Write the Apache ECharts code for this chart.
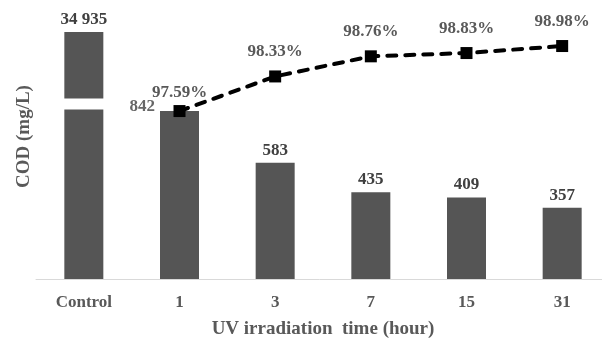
<!DOCTYPE html>
<html>
<head>
<meta charset="utf-8">
<script src="https://cdn.jsdelivr.net/npm/echarts@6/dist/echarts.min.js"></script>
<style>html,body{margin:0;padding:0;background:#fff}#c{width:602px;height:338px}</style>
</head>
<body>
<div id="c"></div>
<script>
const categories = ['Control', '1', '3', '7', '15', '31'];
const codValues = [34935, 842, 583, 435, 409, 357];
const codLabels = ['34 935', '842', '583', '435', '409', '357'];
const removal = [null, 97.59, 98.33, 98.76, 98.83, 98.98];
const removalLabels = ['', '97.59%', '98.33%', '98.76%', '98.83%', '98.98%'];

const FONT = '"Liberation Serif", "Times New Roman", serif';
const chart = echarts.init(document.getElementById('c'), null, {renderer: 'canvas'});

// label of the "1 h" bar is drawn to its left, above the axis-break band
const SIDE_LABEL_INDEX = 1;

const barData = codValues.map((v, i) => ({
  value: v,
  label: {show: i !== SIDE_LABEL_INDEX, formatter: codLabels[i]}
}));
const sideLabelData = codValues.map((v, i) => i === SIDE_LABEL_INDEX ? {value: v, label: {formatter: codLabels[i]}} : '-');
const lineData = removal.map((v, i) => {
  if (v === null) return '-';
  const d = {value: v, label: {formatter: removalLabels[i]}};
  if (i === 1) d.label.distance = 4;
  return d;
});

chart.setOption({
  animation: false,
  grid: {left: 36, top: 32, width: 574, bottom: 59, containLabel: false, outerBoundsMode: 'none'},
  xAxis: {
    type: 'category',
    data: categories,
    axisLine: {lineStyle: {color: '#d9d9d9', width: 1}},
    axisTick: {show: false},
    axisLabel: {color: '#595959', fontFamily: FONT, fontWeight: 'bold', fontSize: 17, margin: 15},
    name: 'UV irradiation  time (hour)',
    nameLocation: 'middle',
    nameGap: 41,
    nameTextStyle: {color: '#595959', fontFamily: FONT, fontWeight: 'bold', fontSize: 19}
  },
  yAxis: [{
    type: 'value',
    min: 0,
    max: 34935,
    breaks: [{start: 852, end: 34604, gap: '4.45%'}],
    breakArea: {show: true, itemStyle: {color: '#ffffff', borderColor: '#ffffff', borderWidth: 0, opacity: 1}, zigzagAmplitude: 0, expandOnClick: false},
    axisLine: {show: false},
    axisTick: {show: false},
    axisLabel: {show: false},
    splitLine: {show: false},
    name: 'COD (mg/L)',
    nameLocation: 'middle',
    nameGap: 2,
    nameTextStyle: {color: '#595959', fontFamily: FONT, fontWeight: 'bold', fontSize: 19, padding: [0, 0, 0, 38]}
  }, {
    type: 'value',
    min: 94,
    max: 99.28,
    show: false,
    splitLine: {show: false}
  }],
  series: [{
    type: 'bar',
    data: barData,
    barWidth: 39,
    itemStyle: {color: '#555555'},
    label: {show: true, position: 'top', distance: 4, color: '#404040', fontFamily: FONT, fontWeight: 'bold', fontSize: 17}
  }, {
    type: 'scatter',
    data: sideLabelData,
    zlevel: 1,
    symbolSize: 1,
    itemStyle: {color: 'rgba(0,0,0,0)'},
    silent: true,
    label: {show: true, position: 'left', distance: 24, offset: [0, -4], color: '#404040', fontFamily: FONT, fontWeight: 'bold', fontSize: 17}
  }, {
    type: 'line',
    yAxisIndex: 1,
    zlevel: 1,
    data: lineData,
    symbol: 'rect',
    symbolSize: 12,
    itemStyle: {color: '#000000'},
    lineStyle: {color: '#000000', width: 4, type: [9, 9], cap: 'round'},
    label: {show: true, position: 'top', distance: 10, color: '#595959', fontFamily: FONT, fontWeight: 'bold', fontSize: 17}
  }]
});
</script>
</body>
</html>
